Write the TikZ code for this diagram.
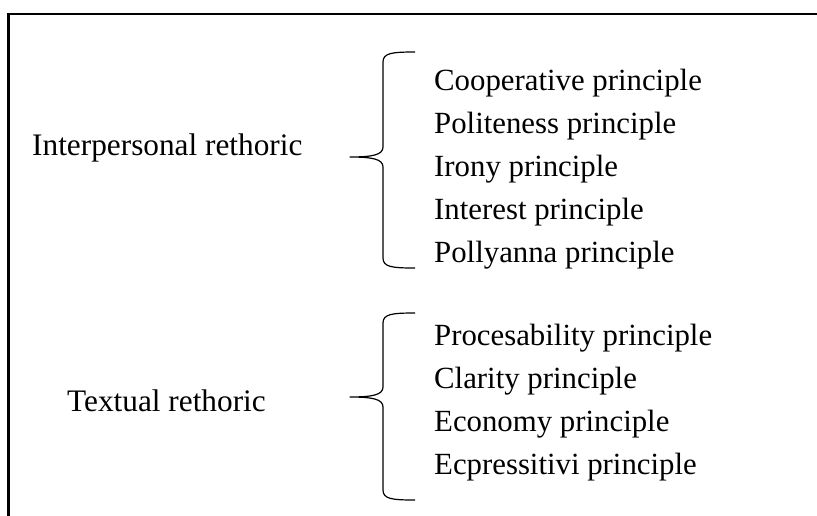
\documentclass[tikz,border=0pt]{standalone}
\usepackage{fontspec}
\setmainfont{Liberation Serif}
\tikzset{
  lbl/.style={anchor=base west, inner sep=0pt, font=\fontsize{31.3}{31.3}\selectfont},
  itm/.style={anchor=base west, inner sep=0pt, font=\fontsize{30.8}{30.8}\selectfont},
  frameline/.style={line width=2.1pt},
  bracel/.style={line width=1.2pt, line join=round}
}
\begin{document}
\begin{tikzpicture}[x=1pt,y=-1pt]
\useasboundingbox (0,0) rectangle (817,515);
% frame (top and left edges)
\coordinate (fbl) at (8.5,516);
\coordinate (ftl) at (8.5,14);
\coordinate (ftr) at (818,14);
\draw[frameline] (fbl) -- (ftl) -- (ftr);

% labels
\node[lbl] (inter) at (32,155) {Interpersonal rethoric};
\node[lbl] (text) at (67,411) {Textual rethoric};

% items group 1
\node[itm] (coop) at (434,90) {Cooperative principle};
\node[itm] (polit) at (434,133) {Politeness principle};
\node[itm] (irony) at (434,176) {Irony principle};
\node[itm] (inter2) at (434,219) {Interest principle};
\node[itm] (polly) at (434,262) {Pollyanna principle};

% items group 2
\node[itm] (proc) at (434,345) {Procesability principle};
\node[itm] (clar) at (434,388) {Clarity principle};
\node[itm] (econ) at (434,431) {Economy principle};
\node[itm] (ecpr) at (434,474) {Ecpressitivi principle};

% brace 1
\coordinate (b1t) at (415,52);
\coordinate (b1m) at (350,157);
\coordinate (b1b) at (415,268);
\draw[bracel] (b1t) .. controls (392,52) and (383,53) .. (383,62)
  -- (383,147) .. controls (383,155) and (372,157) .. (b1m)
  .. controls (372,157) and (383,159) .. (383,167)
  -- (383,258) .. controls (383,267) and (392,268) .. (b1b);

% brace 2
\coordinate (b2t) at (415,313);
\coordinate (b2m) at (350,397);
\coordinate (b2b) at (415,500);
\draw[bracel] (b2t) .. controls (392,313) and (383,314) .. (383,323)
  -- (383,387) .. controls (383,395) and (372,397) .. (b2m)
  .. controls (372,397) and (383,399) .. (383,407)
  -- (383,490) .. controls (383,499) and (392,500) .. (b2b);
\end{tikzpicture}
\end{document}
